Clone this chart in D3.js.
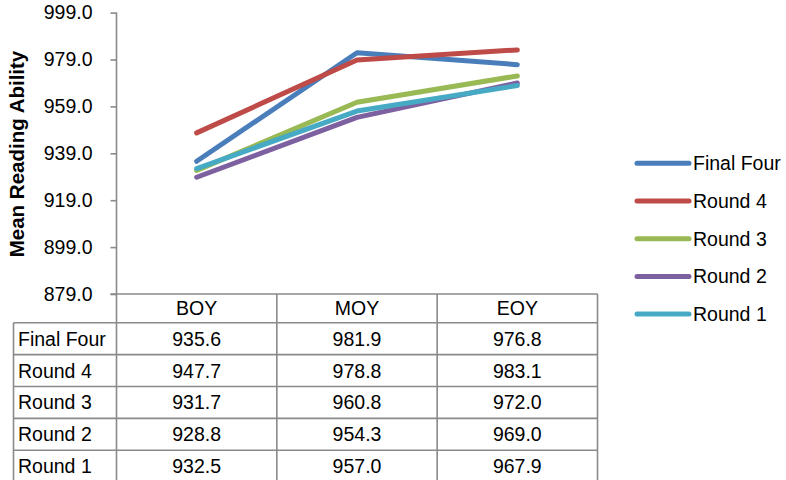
<!DOCTYPE html>
<html>
<head>
<meta charset="utf-8">
<script src="https://cdn.jsdelivr.net/npm/d3@7"></script>
<style>
  html, body { margin: 0; padding: 0; background: #fff; }
  svg { display: block; font-family: "Liberation Sans", Arial, sans-serif; }
</style>
</head>
<body>
<svg id="chart" width="786" height="480"></svg>
<script>
// Periods of the school year
const periods = ["BOY", "MOY", "EOY"];

// Mean reading ability per group
const seriesNames = ["Final Four", "Round 4", "Round 3", "Round 2", "Round 1"];
const finalFour = [935.6, 981.9, 976.8];
const round4 = [947.7, 978.8, 983.1];
const round3 = [931.7, 960.8, 972.0];
const round2 = [928.8, 954.3, 969.0];
const round1 = [932.5, 957.0, 967.9];
const seriesColors = ["#4a7ebb", "#be4b48", "#98b954", "#7d60a0", "#46aac5"];

// Y axis ticks
const yTicks = [879, 899, 919, 939, 959, 979, 999];

const seriesValues = [finalFour, round4, round3, round2, round1];
const series = seriesNames.map((name, i) => ({ name, values: seriesValues[i], color: seriesColors[i] }));

const svg = d3.select("#chart");
const axisColor = "#8a8a8a";
const textColor = "#000";
const fontSize = 19.5;

// Plot region
const plot = { left: 116.5, right: 597.5, top: 12.6, bottom: 294 };

const x = d3.scaleBand().domain(periods).range([plot.left, plot.right]).padding(0);
const y = d3.scaleLinear().domain([879, 999]).range([plot.bottom, plot.top]);

// Y axis
const yAxis = d3.axisLeft(y).tickValues(yTicks).tickFormat(d3.format(".1f")).tickSize(6).tickPadding(18);
const gy = svg.append("g").attr("transform", `translate(${plot.left},0)`).call(yAxis);
gy.select(".domain").remove();
gy.selectAll(".tick line").attr("stroke", axisColor).attr("stroke-width", 1.6);
gy.selectAll(".tick text").attr("fill", textColor).style("font-size", fontSize + "px")
  .style("font-family", "'Liberation Sans', Arial, sans-serif");

// Axis title
svg.append("text")
  .attr("transform", `translate(17,154) rotate(-90)`)
  .attr("text-anchor", "middle")
  .attr("dy", "0.36em")
  .style("font-size", "20.5px")
  .style("font-weight", "bold")
  .attr("fill", textColor)
  .text("Mean Reading Ability");

// Lines
const line = d3.line()
  .x((d, i) => x(periods[i]) + x.bandwidth() / 2)
  .y(d => y(d));

svg.append("g").selectAll("path")
  .data(series)
  .join("path")
  .attr("d", d => line(d.values))
  .attr("fill", "none")
  .attr("stroke", d => d.color)
  .attr("stroke-width", 5)
  .attr("stroke-linecap", "round")
  .attr("stroke-linejoin", "round");

// Data table under the plot
const headerH = 28.7;
const rowH = 31.9;
const labelLeft = 13.5;
const tableTop = plot.bottom;
const rowsTop = tableTop + headerH;
const rowY = d3.scaleBand().domain(seriesNames).range([rowsTop, rowsTop + rowH * seriesNames.length]);

const grid = svg.append("g").attr("stroke", axisColor).attr("stroke-width", 1.6).attr("fill", "none");

// vertical axis line continuing through the table
grid.append("line").attr("x1", plot.left).attr("x2", plot.left).attr("y1", plot.top).attr("y2", 480);
// remaining column borders
periods.forEach(p => {
  const xr = x(p) + x.bandwidth();
  grid.append("line").attr("x1", xr).attr("x2", xr).attr("y1", tableTop).attr("y2", 480);
});
// label column left border
grid.append("line").attr("x1", labelLeft).attr("x2", labelLeft).attr("y1", rowsTop).attr("y2", 480);
// horizontal axis/header top
grid.append("line").attr("x1", plot.left - 6).attr("x2", plot.right).attr("y1", tableTop).attr("y2", tableTop);
// row borders
seriesNames.forEach(n => {
  grid.append("line").attr("x1", labelLeft).attr("x2", plot.right).attr("y1", rowY(n)).attr("y2", rowY(n));
});
grid.append("line").attr("x1", labelLeft).attr("x2", plot.right)
  .attr("y1", rowsTop + rowH * seriesNames.length).attr("y2", rowsTop + rowH * seriesNames.length);

// header labels
svg.append("g").selectAll("text")
  .data(periods)
  .join("text")
  .attr("x", d => x(d) + x.bandwidth() / 2)
  .attr("y", tableTop + headerH / 2)
  .attr("dy", "0.36em")
  .attr("text-anchor", "middle")
  .style("font-size", fontSize + "px")
  .attr("fill", textColor)
  .text(d => d);

// row labels and values
const rows = svg.append("g").selectAll("g")
  .data(series)
  .join("g")
  .attr("transform", d => `translate(0,${rowY(d.name) + rowH / 2})`);

rows.append("text")
  .attr("x", labelLeft + 4.5)
  .attr("dy", "0.36em")
  .style("font-size", fontSize + "px")
  .attr("fill", textColor)
  .text(d => d.name);

rows.selectAll("text.val")
  .data(d => d.values)
  .join("text")
  .attr("class", "val")
  .attr("x", (v, i) => x(periods[i]) + x.bandwidth() / 2)
  .attr("dy", "0.36em")
  .attr("text-anchor", "middle")
  .style("font-size", fontSize + "px")
  .attr("fill", textColor)
  .text(v => d3.format(".1f")(v));

// Legend
const legend = svg.append("g").selectAll("g")
  .data(series)
  .join("g")
  .attr("transform", (d, i) => `translate(0,${163.3 + i * 37.7})`);

legend.append("line")
  .attr("x1", 637).attr("x2", 689)
  .attr("stroke", d => d.color)
  .attr("stroke-width", 5)
  .attr("stroke-linecap", "round");

legend.append("text")
  .attr("x", 693)
  .attr("dy", "0.36em")
  .style("font-size", fontSize + "px")
  .attr("fill", textColor)
  .text(d => d.name);
</script>
</body>
</html>
